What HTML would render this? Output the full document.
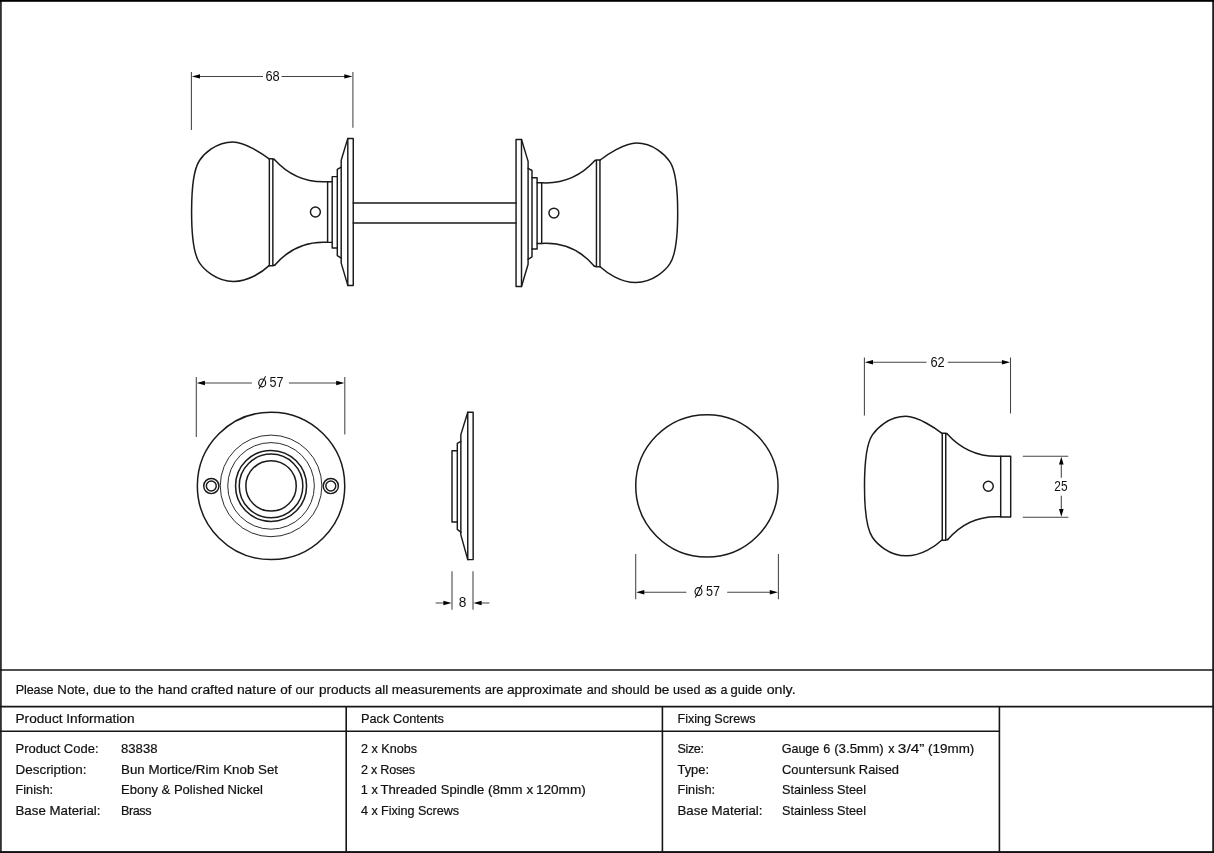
<!DOCTYPE html>
<html>
<head>
<meta charset="utf-8">
<title>Bun Mortice/Rim Knob Set - 83838</title>
<style>
html,body{margin:0;padding:0;background:#fff;}
body{width:1214px;height:853px;overflow:hidden;font-family:"Liberation Sans",sans-serif;}
svg{display:block;position:absolute;left:0;top:0;}
text{font-family:"Liberation Sans",sans-serif;fill:#111;}
svg{will-change:transform;-webkit-font-smoothing:antialiased;}
.t{font-size:12.6px;stroke:#111;stroke-width:0.2px;}
.d{font-size:14px;fill:#111;}
.o{fill:none;stroke:#1a1a1a;stroke-width:1.5;stroke-linejoin:round;stroke-linecap:round;}
.m{fill:none;stroke:#1a1a1a;stroke-width:1.45;stroke-linejoin:round;stroke-linecap:round;}
.n{fill:none;stroke:#222;stroke-width:0.95;}
.x{fill:none;stroke:#454545;stroke-width:1.05;}
.a{fill:#000;stroke:none;}
.f{fill:none;stroke:#161616;stroke-width:1.6;}
.b{fill:none;stroke:#161616;stroke-width:2;}
</style>
</head>
<body>
<svg width="1214" height="853" viewBox="0 0 1214 853">
<rect x="0" y="0" width="1214" height="853" fill="#fff"/>

<!-- ===== FRAME AND TABLE ===== -->
<g id="frame">
<rect x="0" y="0" width="1.8" height="853" fill="#303030"/>
<rect x="1212.2" y="0" width="1.8" height="853" fill="#222"/>
<rect x="0" y="0" width="1214" height="1.8" fill="#000"/>
<rect x="0" y="851.1" width="1214" height="1.9" fill="#111"/>
<line class="f" x1="0" y1="670" x2="1214" y2="670"/>
<line class="f" x1="0" y1="706.6" x2="1214" y2="706.6"/>
<line class="f" x1="0" y1="731.3" x2="999.4" y2="731.3"/>
<line class="f" x1="346.2" y1="706.6" x2="346.2" y2="853"/>
<line class="f" x1="662.4" y1="706.6" x2="662.4" y2="853"/>
<line class="f" x1="999.4" y1="706.6" x2="999.4" y2="853"/>
</g>

<!-- ===== TABLE TEXT ===== -->
<g id="tabletext" class="t">
<text x="15.8" y="693.5" textLength="37.8" lengthAdjust="spacing">Please</text>
<text x="57.3" y="693.5" textLength="31.8" lengthAdjust="spacingAndGlyphs">Note,</text>
<text x="93.2" y="693.5" textLength="22.6" lengthAdjust="spacingAndGlyphs">due</text>
<text x="119.5" y="693.5" textLength="11.2" lengthAdjust="spacingAndGlyphs">to</text>
<text x="135.0" y="693.5" textLength="18.4" lengthAdjust="spacingAndGlyphs">the</text>
<text x="158.0" y="693.5" textLength="29.4" lengthAdjust="spacingAndGlyphs">hand</text>
<text x="190.9" y="693.5" textLength="42.3" lengthAdjust="spacingAndGlyphs">crafted</text>
<text x="236.9" y="693.5" textLength="39.3" lengthAdjust="spacingAndGlyphs">nature</text>
<text x="280.2" y="693.5" textLength="11.3" lengthAdjust="spacingAndGlyphs">of</text>
<text x="295.5" y="693.5" textLength="18.6" lengthAdjust="spacingAndGlyphs">our</text>
<text x="318.9" y="693.5" textLength="52.0" lengthAdjust="spacingAndGlyphs">products</text>
<text x="374.8" y="693.5" textLength="13.6" lengthAdjust="spacingAndGlyphs">all</text>
<text x="391.8" y="693.5" textLength="88.9" lengthAdjust="spacingAndGlyphs">measurements</text>
<text x="484.7" y="693.5" textLength="18.7" lengthAdjust="spacingAndGlyphs">are</text>
<text x="506.9" y="693.5" textLength="75.5" lengthAdjust="spacingAndGlyphs">approximate</text>
<text x="586.8" y="693.5" textLength="20.7" lengthAdjust="spacing">and</text>
<text x="611.4" y="693.5" textLength="38.4" lengthAdjust="spacingAndGlyphs">should</text>
<text x="654.3" y="693.5" textLength="15.1" lengthAdjust="spacingAndGlyphs">be</text>
<text x="673.1" y="693.5" textLength="27.3" lengthAdjust="spacing">used</text>
<text x="704.4" y="693.5" textLength="12.1" lengthAdjust="spacing">as</text>
<text x="720.6" y="693.5" textLength="6.7" lengthAdjust="spacing">a</text>
<text x="730.5" y="693.5" textLength="31.7" lengthAdjust="spacingAndGlyphs">guide</text>
<text x="766.7" y="693.5" textLength="28.9" lengthAdjust="spacingAndGlyphs">only.</text>
<text x="15.5" y="723.1" textLength="119" lengthAdjust="spacingAndGlyphs">Product Information</text>
<text x="361" y="723.1" textLength="83" lengthAdjust="spacingAndGlyphs">Pack Contents</text>
<text x="677.5" y="723.1" textLength="78" lengthAdjust="spacing">Fixing Screws</text>

<text x="15.5" y="753.1" textLength="83" lengthAdjust="spacingAndGlyphs">Product Code:</text>
<text x="15.5" y="773.5" textLength="71" lengthAdjust="spacingAndGlyphs">Description:</text>
<text x="15.5" y="794.3" textLength="37.5" lengthAdjust="spacingAndGlyphs">Finish:</text>
<text x="15.5" y="814.9" textLength="85" lengthAdjust="spacingAndGlyphs">Base Material:</text>
<text x="121" y="753.1" textLength="36.5" lengthAdjust="spacingAndGlyphs">83838</text>
<text x="121" y="773.5" textLength="157" lengthAdjust="spacingAndGlyphs">Bun Mortice/Rim Knob Set</text>
<text x="121" y="794.3" textLength="142" lengthAdjust="spacingAndGlyphs">Ebony &amp; Polished Nickel</text>
<text x="121" y="814.9" textLength="30.5" lengthAdjust="spacing">Brass</text>

<text x="361" y="753.1" textLength="56" lengthAdjust="spacing">2 x Knobs</text>
<text x="361" y="773.5" textLength="54" lengthAdjust="spacing">2 x Roses</text>
<text x="360.8" y="794.3" textLength="17.0" lengthAdjust="spacingAndGlyphs">1 x</text>
<text x="380.4" y="794.3" textLength="56.5" lengthAdjust="spacingAndGlyphs">Threaded</text>
<text x="440.7" y="794.3" textLength="43.6" lengthAdjust="spacingAndGlyphs">Spindle</text>
<text x="487.9" y="794.3" textLength="34.5" lengthAdjust="spacingAndGlyphs">(8mm</text>
<text x="526.6" y="794.3" textLength="6.7" lengthAdjust="spacingAndGlyphs">x</text>
<text x="535.9" y="794.3" textLength="49.9" lengthAdjust="spacingAndGlyphs">120mm)</text>
<text x="361" y="814.9" textLength="98" lengthAdjust="spacing">4 x Fixing Screws</text>

<text x="677.5" y="753.1" textLength="26.5" lengthAdjust="spacing">Size:</text>
<text x="677.5" y="773.5" textLength="31.5" lengthAdjust="spacingAndGlyphs">Type:</text>
<text x="677.5" y="794.3" textLength="37.5" lengthAdjust="spacingAndGlyphs">Finish:</text>
<text x="677.5" y="814.9" textLength="85" lengthAdjust="spacingAndGlyphs">Base Material:</text>
<text x="781.8" y="753.1" textLength="37.5" lengthAdjust="spacing">Gauge</text>
<text x="823.3" y="753.1" textLength="6.5" lengthAdjust="spacing">6</text>
<text x="834.2" y="753.1" textLength="49.5" lengthAdjust="spacingAndGlyphs">(3.5mm)</text>
<text x="888.2" y="753.1" textLength="6.3" lengthAdjust="spacingAndGlyphs">x</text>
<text x="897.8" y="753.1" textLength="26.6" lengthAdjust="spacingAndGlyphs">3/4&#8221;</text>
<text x="928.1" y="753.1" textLength="46.2" lengthAdjust="spacingAndGlyphs">(19mm)</text>
<text x="782" y="773.5" textLength="117" lengthAdjust="spacingAndGlyphs">Countersunk Raised</text>
<text x="782" y="794.3" textLength="84" lengthAdjust="spacingAndGlyphs">Stainless Steel</text>
<text x="782" y="814.9" textLength="84" lengthAdjust="spacingAndGlyphs">Stainless Steel</text>
</g>


<!-- ===== TOP ASSEMBLY VIEW ===== -->
<defs>
<g id="bn">
  <!-- ball -->
  <path class="o" d="M269.1 158.9 C262.8 154 244.9 141.9 232.9 141.9 C215.6 141.9 203.5 154.5 199.5 160.5 C194.6 167.7 191.6 183.5 191.6 211.65 C191.6 239.8 194.6 255.6 199.5 262.8 C203.5 268.8 215.9 281.4 233.3 281.4 C249 281.5 262.8 271.5 269.1 265.6"/>
  <!-- band -->
  <path class="m" d="M269.35 158.8 L269.35 265.7 M272.85 158.8 L272.85 265.7 M269 158.8 L273 158.8 L274.4 159.5 M269 265.7 L273 265.7 L274.9 265.1"/>
  <!-- neck -->
  <path class="o" d="M274.4 159.5 C283 169 300 183.3 327.8 181.7"/>
  <path class="o" d="M274.9 265.1 C283 255.6 300 240.7 327.8 242.35"/>
</g>
<g id="knobL">
  <use href="#bn"/>
  <path class="m" d="M327.6 181.7 L332.2 181.7 M327.6 242.35 L332.2 242.35 M327.6 181.7 L327.6 242.35"/>
  <!-- collars -->
  <path class="m" d="M337.3 176.6 L332.2 176.6 L332.2 247.9 L337.3 247.9"/>
  <path class="m" d="M341.2 167.2 L337.3 169.4 L337.3 255.7 L341.2 258.2"/>
  <!-- rose plate -->
  <path class="m" d="M347.8 138.4 L341.2 160.3 L341.2 263.1 L347.8 285.4"/>
  <rect class="m" x="347.8" y="138.4" width="5.45" height="147"/>
  <circle class="m" cx="315.4" cy="212" r="4.95"/>
</g>
<g id="dia">
  <ellipse cx="0" cy="0" rx="3.45" ry="3.9" fill="none" stroke="#111" stroke-width="1.15"/>
  <path d="M-3.2 5.8 L3.4 -6.6" fill="none" stroke="#111" stroke-width="1.05"/>
</g>
</defs>
<use href="#knobL"/>
<use href="#knobL" transform="translate(869.3 1.1) scale(-1 1)"/>
<path class="m" d="M353.2 202.9 L516 202.9 M353.2 223 L516 223"/>
<!-- dim 68 -->
<path class="x" d="M191.4 72 L191.4 130 M352.9 72 L352.9 127.8 M199 76.4 L263 76.4 M281.6 76.4 L345.5 76.4"/>
<path class="a" d="M191.8 76.4 L200 74.2 L200 78.6 Z M352.5 76.4 L344.3 74.2 L344.3 78.6 Z"/>
<text class="d" x="265.4" y="81.3" textLength="14.3" lengthAdjust="spacingAndGlyphs">68</text>

<!-- ===== ROSE FRONT VIEW ===== -->
<circle class="o" cx="271.05" cy="485.9" r="73.7"/>
<circle class="n" cx="271.05" cy="485.9" r="50.8"/>
<circle class="n" cx="271.05" cy="485.9" r="43.3"/>
<circle class="o" cx="271.05" cy="485.9" r="35.5"/>
<circle class="o" cx="271.05" cy="485.9" r="31.8"/>
<circle class="o" cx="271.05" cy="485.9" r="25.2"/>
<circle class="m" cx="211.3" cy="486" r="7.6"/>
<circle class="m" cx="211.3" cy="486" r="4.95"/>
<circle class="m" cx="330.8" cy="486" r="7.6"/>
<circle class="m" cx="330.8" cy="486" r="4.95"/>
<!-- dim 57 -->
<path class="x" d="M196.3 377 L196.3 437 M344.8 377 L344.8 434.5 M204 383 L251.9 383 M288.9 383 L337 383"/>
<path class="a" d="M196.7 383 L204.9 380.8 L204.9 385.2 Z M344.4 383 L336.2 380.8 L336.2 385.2 Z"/>
<use href="#dia" transform="translate(262.2 382.9)"/>
<text class="d" x="269.6" y="387.3" textLength="14" lengthAdjust="spacingAndGlyphs">57</text>

<!-- ===== ROSE SIDE VIEW ===== -->
<rect class="m" x="467.75" y="412.3" width="5.4" height="147.3"/>
<path class="m" d="M467.75 412.3 L460.85 434.6 L460.85 534.9 L467.75 559.6"/>
<path class="m" d="M460.85 441.3 L457.3 443.4 L457.3 529.4 L460.85 532.3"/>
<path class="m" d="M457.3 450.7 L452 450.7 L452 522 L457.3 522"/>
<!-- dim 8 -->
<path class="x" d="M452 571.2 L452 609.7 M473 571.2 L473 609.7 M435.6 603 L444.5 603 M480.5 603 L489.4 603"/>
<path class="a" d="M451.6 603 L443.4 600.8 L443.4 605.2 Z M473.4 603 L481.6 600.8 L481.6 605.2 Z"/>
<text class="d" x="458.7" y="607.2" textLength="7.6" lengthAdjust="spacingAndGlyphs">8</text>

<!-- ===== KNOB FRONT VIEW (circle) ===== -->
<circle class="o" cx="706.9" cy="485.9" r="71.15"/>
<path class="x" d="M635.7 554 L635.7 599.3 M778.4 554 L778.4 599.3 M643.5 592.2 L686.4 592.2 M727.2 592.2 L771 592.2"/>
<path class="a" d="M636.1 592.2 L644.3 590 L644.3 594.4 Z M778 592.2 L769.8 590 L769.8 594.4 Z"/>
<use href="#dia" transform="translate(698.5 591.6)"/>
<text class="d" x="706.1" y="596" textLength="14" lengthAdjust="spacingAndGlyphs">57</text>

<!-- ===== KNOB SIDE VIEW ===== -->
<use href="#bn" transform="translate(672.9 274.45)"/>
<rect class="m" x="1000.7" y="456.2" width="10" height="60.8"/>
<circle class="m" cx="988.3" cy="486.2" r="4.95"/>
<!-- dim 62 -->
<path class="x" d="M864.4 357.5 L864.4 415.5 M1010.5 357.5 L1010.5 413.5 M872 362.3 L926.5 362.3 M947.8 362.3 L1003 362.3"/>
<path class="a" d="M864.8 362.3 L873 360.1 L873 364.5 Z M1010.1 362.3 L1001.9 360.1 L1001.9 364.5 Z"/>
<text class="d" x="930.4" y="367" textLength="14.3" lengthAdjust="spacingAndGlyphs">62</text>
<!-- dim 25 -->
<path class="x" d="M1022.8 456.3 L1068.3 456.3 M1022.8 517.2 L1068.3 517.2 M1061.3 463.8 L1061.3 477.8 M1061.3 495.7 L1061.3 509.7"/>
<path class="a" d="M1061.3 456.7 L1059 464.6 L1063.6 464.6 Z M1061.3 516.8 L1059 508.9 L1063.6 508.9 Z"/>
<text class="d" x="1054.3" y="491" textLength="13.2" lengthAdjust="spacingAndGlyphs">25</text>
</svg>
</body>
</html>
